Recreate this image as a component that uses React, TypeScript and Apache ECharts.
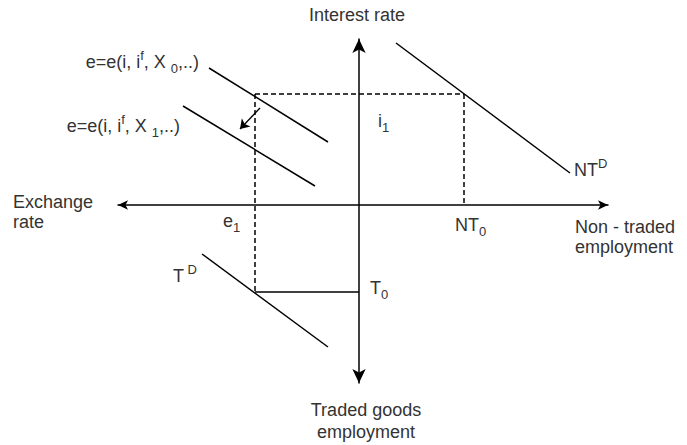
import React, { useEffect, useRef } from "react";
import * as echarts from "echarts";

// Diagram coordinates: origin at the crossing of the two axes.
const xRange = [-241, 249];
const yRange = [-178, 166];

const curveE0 = [[-150, 137], [-31, 63]];
const curveE1 = [[-176, 99], [-44, 19]];
const curveNTD = [[37, 162], [211, 32]];
const curveTD = [[-157, -49], [-31, -142]];
const dashTop = [[-104, 111], [105, 111]];
const dashLeft = [[-104, 111], [-104, -87]];
const dashRight = [[105, 111], [105, 0]];
const lineT0 = [[-104, -87], [0, -87]];
const shiftArrow = [[-99, 97], [-119, 76]];

const FONT = "Liberation Sans, Arial, sans-serif";
const TXT = "#333";

const rich = {
  n: { fontSize: 18, lineHeight: 26, fontFamily: FONT, fill: TXT },
  sub: { fontSize: 13, lineHeight: 13, fontFamily: FONT, fill: TXT, verticalAlign: "bottom" },
  sup: { fontSize: 13, lineHeight: 20, fontFamily: FONT, fill: TXT, verticalAlign: "top" },
};

function label(x: number, y: number, text: string, align: string = "left", plain = false, lh = 20) {
  return {
    type: "text",
    x,
    y,
    silent: true,
    style: plain
      ? {
          text,
          fill: TXT,
          font: `18px ${FONT}`,
          lineHeight: lh,
          textAlign: align,
          textVerticalAlign: "middle",
        }
      : {
          text,
          rich,
          fill: TXT,
          font: `18px ${FONT}`,
          textAlign: align,
          textVerticalAlign: "middle",
        },
  };
}

function seg(data: number[][], dashed = false) {
  return {
    type: "line",
    data,
    symbol: "none",
    silent: true,
    lineStyle: { color: "#000", width: 1.5, type: dashed ? [5, 3] : "solid" },
  };
}

export default function App() {
  const ref = useRef<HTMLDivElement>(null);
  useEffect(() => {
    if (!ref.current) return;
    const chart = echarts.init(ref.current, null, { renderer: "svg" });
    const axisCommon = {
      type: "value",
      axisTick: { show: false },
      axisLabel: { show: false },
      splitLine: { show: false },
    };
    chart.setOption({
      animation: false,
      backgroundColor: "#fff",
      grid: { left: 118, right: 79, top: 39, bottom: 62, containLabel: false },
      xAxis: {
        ...axisCommon,
        min: xRange[0],
        max: xRange[1],
        axisLine: {
          show: true,
          onZero: true,
          symbol: ["arrow", "arrow"],
          symbolSize: [7, 10],
          lineStyle: { color: "#000", width: 1.5 },
        },
      },
      yAxis: {
        ...axisCommon,
        min: yRange[0],
        max: yRange[1],
        axisLine: {
          show: true,
          onZero: true,
          symbol: ["arrow", "arrow"],
          symbolSize: [10, 14],
          lineStyle: { color: "#000", width: 1.5 },
        },
      },
      series: [
        seg(curveE0),
        seg(curveE1),
        seg(curveNTD),
        seg(curveTD),
        seg(dashTop, true),
        seg(dashLeft, true),
        seg(dashRight, true),
        seg(lineT0),
        {
          type: "lines",
          coordinateSystem: "cartesian2d",
          silent: true,
          symbol: ["none", "arrow"],
          symbolSize: 9,
          lineStyle: { color: "#000", width: 1.3, opacity: 1 },
          data: [{ coords: shiftArrow }],
        },
      ],
      graphic: [
        label(357, 15, "Interest rate", "center", true),
        label(199, 62, "{n|e=e(i, i}{sup|f}{n|, X }{sub|0}{n|,..)}", "right"),
        label(180, 126, "{n|e=e(i, i}{sup|f}{n|, X }{sub|1}{n|,..)}", "right"),
        label(378, 121, "{n|i}{sub|1}"),
        label(574, 170, "{n|NT}{sup|D}"),
        label(13, 212, "Exchange\nrate", "left", true),
        label(223, 221, "{n|e}{sub|1}"),
        label(455, 225, "{n|NT}{sub|0}"),
        label(575, 237, "Non - traded\nemployment", "left", true),
        label(173, 276, "{n|T}{sup| D}"),
        label(370, 288, "{n|T}{sub|0}"),
        label(366, 421, "Traded goods\nemployment", "center", true, 22),
      ],
    });
    return () => chart.dispose();
  }, []);
  return (
    <div
      ref={ref}
      style={{ position: "fixed", left: 0, top: 0, width: 687, height: 445 }}
    />
  );
}
